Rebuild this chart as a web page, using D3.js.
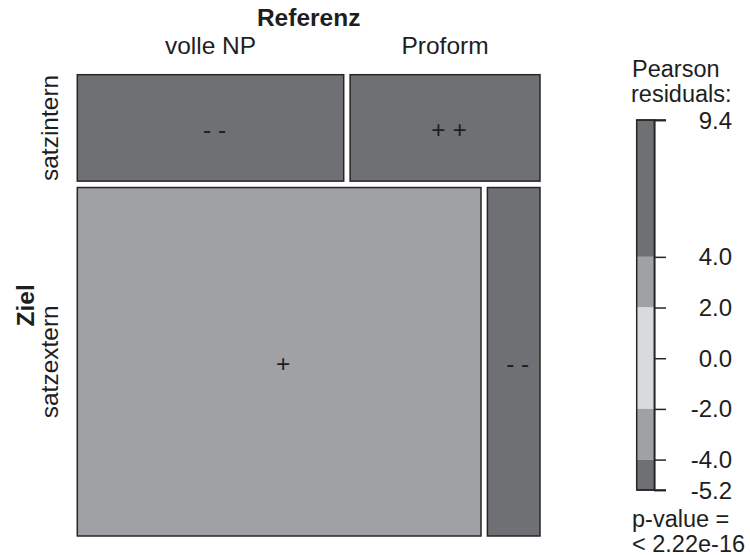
<!DOCTYPE html>
<html>
<head>
<meta charset="utf-8">
<script src="https://cdn.jsdelivr.net/npm/d3@7"></script>
<style>
  html, body { margin: 0; padding: 0; background: #fff; }
  svg { display: block; font-family: "Liberation Sans", Arial, Helvetica, sans-serif; }
</style>
</head>
<body>
<svg id="chart" width="750" height="555"></svg>
<script>
// Contingency table: Ziel (rows) x Referenz (columns)
const zielLevels = ["satzintern", "satzextern"];
const referenzLevels = ["volle NP", "Proform"];
const countsSatzintern = [181, 129];
const countsSatzextern = [898, 117];
const legendTicks = [9.4, 4.0, 2.0, 0.0, -2.0, -4.0, -5.2];
const shadingCuts = [2, 4];
const pValueText = "< 2.22e-16";

const counts = [countsSatzintern, countsSatzextern];

// Pearson residuals
const N = d3.sum(counts.flat());
const rowSums = counts.map(r => d3.sum(r));
const colSums = referenzLevels.map((_, j) => d3.sum(counts, r => r[j]));
const resid = counts.map((r, i) => r.map((o, j) => {
  const e = rowSums[i] * colSums[j] / N;
  return (o - e) / Math.sqrt(e);
}));

const dark = "#6f7074", mid = "#a0a1a5", light = "#d9dadc";
const shade = r => Math.abs(r) > shadingCuts[1] ? dark : Math.abs(r) > shadingCuts[0] ? mid : light;
const sym = r => r > shadingCuts[1] ? "+ +" : r > shadingCuts[0] ? "+" : r < -shadingCuts[1] ? "- -" : r < -shadingCuts[0] ? "-" : "";

const svg = d3.select("#chart");
const fontSize = 24.5;
const legendFont = 23.5;
const ink = "#1e1e1e";

// Mosaic geometry
const plotLeft = 77.3, plotRight = 540, plotTop = 74.7, plotBottom = 536, gap = 6.4;
const yScale = d3.scaleLinear().domain([0, N]).range([plotTop, plotBottom - gap * (zielLevels.length - 1)]);

const cells = [];
let cumRow = 0;
counts.forEach((row, i) => {
  const y = yScale(cumRow) + i * gap;
  const h = yScale(cumRow + rowSums[i]) - yScale(cumRow);
  const xScale = d3.scaleLinear().domain([0, rowSums[i]]).range([plotLeft, plotRight - gap * (row.length - 1)]);
  let cumCol = 0;
  row.forEach((v, j) => {
    const x = xScale(cumCol) + j * gap;
    const w = xScale(cumCol + v) - xScale(cumCol);
    cells.push({ i, j, x, y, w, h, r: resid[i][j] });
    cumCol += v;
  });
  cumRow += rowSums[i];
});

const g = svg.append("g");
g.selectAll("rect.cell").data(cells).enter().append("rect")
  .attr("class", "cell")
  .attr("x", d => d.x).attr("y", d => d.y)
  .attr("width", d => d.w).attr("height", d => d.h)
  .attr("fill", d => shade(d.r))
  .attr("stroke", "#262626").attr("stroke-width", 1.5);

g.selectAll("text.res").data(cells).enter().append("text")
  .attr("class", "res")
  .attr("x", d => d.x + d.w / 2 + 4)
  .attr("y", d => d.y + d.h / 2 + 2)
  .attr("text-anchor", "middle")
  .attr("dominant-baseline", "central")
  .attr("font-size", fontSize)
  .attr("fill", ink)
  .text(d => sym(d.r));

// Column labels (Referenz) over the first row
svg.append("text")
  .attr("x", (plotLeft + plotRight) / 2).attr("y", 25.5)
  .attr("text-anchor", "middle").attr("font-weight", "bold")
  .attr("font-size", fontSize).attr("fill", ink)
  .text("Referenz");
svg.selectAll("text.collab").data(cells.filter(d => d.i === 0)).enter().append("text")
  .attr("class", "collab")
  .attr("x", d => d.x + d.w / 2).attr("y", 54)
  .attr("text-anchor", "middle")
  .attr("font-size", fontSize).attr("fill", ink)
  .text(d => referenzLevels[d.j]);

// Row labels (Ziel)
svg.append("text")
  .attr("transform", `translate(33.5,${(plotTop + plotBottom) / 2}) rotate(-90)`)
  .attr("text-anchor", "middle").attr("font-weight", "bold")
  .attr("font-size", fontSize).attr("fill", ink)
  .text("Ziel");
svg.selectAll("text.rowlab").data(cells.filter(d => d.j === 0)).enter().append("text")
  .attr("class", "rowlab")
  .attr("transform", d => `translate(57.5,${d.y + d.h / 2}) rotate(-90)`)
  .attr("text-anchor", "middle")
  .attr("font-size", fontSize).attr("fill", ink)
  .text(d => zielLevels[d.i]);

// Shading legend
const lx0 = 636.7, lx1 = 654.3, ltick = 666;
const lScale = d3.scaleLinear().domain([legendTicks[legendTicks.length - 1], legendTicks[0]]).range([490, 120]);
const bands = [
  [shadingCuts[1], legendTicks[0], dark],
  [shadingCuts[0], shadingCuts[1], mid],
  [-shadingCuts[0], shadingCuts[0], light],
  [-shadingCuts[1], -shadingCuts[0], mid],
  [legendTicks[legendTicks.length - 1], -shadingCuts[1], dark]
];
const lg = svg.append("g");
lg.selectAll("rect.band").data(bands).enter().append("rect")
  .attr("x", lx0).attr("width", lx1 - lx0)
  .attr("y", d => lScale(d[1])).attr("height", d => lScale(d[0]) - lScale(d[1]))
  .attr("fill", d => d[2]);
lg.append("rect")
  .attr("x", lx0).attr("y", lScale(legendTicks[0]))
  .attr("width", lx1 - lx0)
  .attr("height", lScale(legendTicks[legendTicks.length - 1]) - lScale(legendTicks[0]))
  .attr("fill", "none").attr("stroke", "#262626").attr("stroke-width", 1.5);
const axis = d3.axisRight(lScale).tickValues(legendTicks).tickSize(ltick - lx1).tickFormat(() => "");
const ax = lg.append("g").attr("transform", `translate(${lx1},0)`).call(axis);
ax.select(".domain").attr("stroke", "#262626").attr("stroke-width", 1.5);
ax.selectAll(".tick line").attr("stroke", "#262626").attr("stroke-width", 1.5);
// top and bottom ticks run across the bar as its caps
lg.selectAll("line.cap").data([legendTicks[0], legendTicks[legendTicks.length - 1]]).enter().append("line")
  .attr("x1", lx0).attr("x2", ltick)
  .attr("y1", d => lScale(d)).attr("y2", d => lScale(d))
  .attr("stroke", "#262626").attr("stroke-width", 1.5);
lg.selectAll("text.lt").data(legendTicks).enter().append("text")
  .attr("x", 732).attr("y", d => lScale(d))
  .attr("text-anchor", "end").attr("dominant-baseline", "central")
  .attr("font-size", 24).attr("fill", ink)
  .text(d => d.toFixed(1));

lg.append("text").attr("x", 632).attr("y", 76.5).attr("font-size", legendFont).attr("fill", ink).text("Pearson");
lg.append("text").attr("x", 631).attr("y", 101.5).attr("font-size", legendFont).attr("fill", ink).text("residuals:");
lg.append("text").attr("x", 632).attr("y", 526.5).attr("font-size", legendFont).attr("fill", ink).text("p-value =");
lg.append("text").attr("x", 632).attr("y", 551.5).attr("font-size", legendFont).attr("fill", ink).text(pValueText);
</script>
</body>
</html>
